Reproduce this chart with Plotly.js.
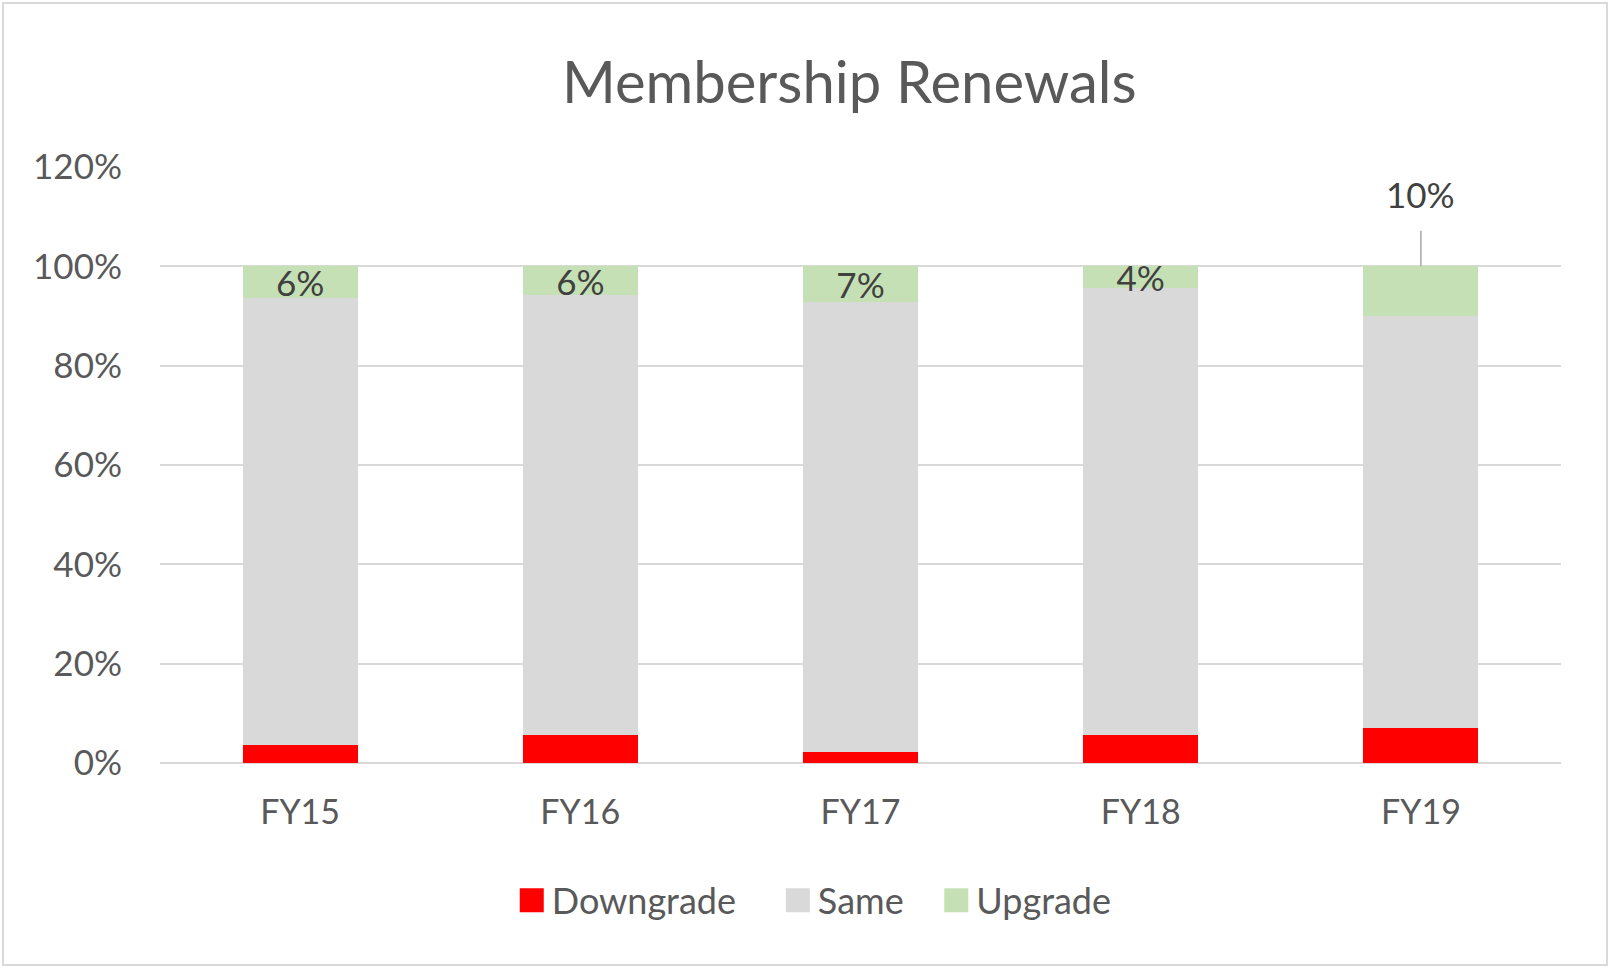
<!DOCTYPE html>
<html>
<head>
<meta charset="utf-8">
<script src="https://cdn.plot.ly/plotly-3.0.1.min.js"></script>
<style>
html,body{margin:0;padding:0;background:#fff;}
#chart{width:1610px;height:968px;}
#frame{position:absolute;left:2px;top:2px;width:1602px;height:960px;border:2px solid #d9d9d9;pointer-events:none;}
</style>
</head>
<body>
<div id="chart"></div>
<div id="frame"></div>
<script>
// Data (percent of renewals)
const categories = ['FY15', 'FY16', 'FY17', 'FY18', 'FY19'];
const downgrade = [3.7, 5.6, 2.2, 5.6, 7.0];
const same      = [89.9, 88.6, 90.6, 90.0, 83.1];
const upgrade   = [6.4, 5.8, 7.2, 4.4, 9.9];
const seriesNames = ['Downgrade', 'Same', 'Upgrade'];
const yTicks = [0, 20, 40, 60, 80, 100, 120];

const FONT = 'Lato, "Liberation Sans", sans-serif';
const TXT = '#595959';
const pad = n => '\u00a0'.repeat(n);   // spacing between legend entries

const traces = [
  {type: 'bar', name: seriesNames[0] + pad(4), x: categories, y: downgrade,
   marker: {color: '#ff0000'}, hoverinfo: 'skip'},
  {type: 'bar', name: seriesNames[1] + pad(3), x: categories, y: same,
   marker: {color: '#d9d9d9'}, hoverinfo: 'skip'},
  {type: 'bar', name: seriesNames[2], x: categories, y: upgrade,
   marker: {color: '#c5e0b4'}, hoverinfo: 'skip',
   texttemplate: '%{y:.0f}%',
   textposition: categories.map((c, i) => i === categories.length - 1 ? 'none' : 'inside'),
   insidetextanchor: 'middle', textangle: 0, constraintext: 'none',
   insidetextfont: {family: FONT, size: 35, color: '#404040'}}
];

const last = categories.length - 1;
const layout = {
  width: 1610, height: 968,
  paper_bgcolor: '#ffffff', plot_bgcolor: '#ffffff',
  margin: {l: 160, r: 49, t: 167, b: 205},
  barmode: 'stack', bargap: 0.59,
  font: {family: FONT, color: TXT, size: 34},
  title: {text: 'Membership Renewals', font: {family: FONT, size: 58, color: TXT},
          xref: 'paper', x: 0.492, xanchor: 'center', yref: 'container', y: 0.915, yanchor: 'middle'},
  xaxis: {type: 'category', showgrid: false, zeroline: false, showline: false, ticks: '',
          tickfont: {family: FONT, size: 34, color: TXT}, ticklabelstandoff: 26},
  yaxis: {range: [0, 120], tickvals: yTicks, ticktext: yTicks.map(v => v + '%'),
          showgrid: true, gridcolor: '#d9d9d9', gridwidth: 2,
          zeroline: true, zerolinecolor: '#d9d9d9', zerolinewidth: 2,
          showline: false, ticks: '', ticklabelstandoff: 37,
          tickfont: {family: FONT, size: 35, color: TXT}},
  legend: {orientation: 'h', xref: 'paper', yref: 'container', x: 0.467, xanchor: 'center',
           y: 0.07, yanchor: 'middle', font: {family: FONT, size: 36, color: TXT},
           itemclick: false, traceorder: 'normal'},
  annotations: [{
    x: categories[last], y: downgrade[last] + same[last] + upgrade[last],
    xref: 'x', yref: 'y', text: Math.round(upgrade[last]) + '%',
    showarrow: true, arrowhead: 0, arrowwidth: 1.5, arrowcolor: '#a6a6a6',
    ax: 0, ay: -72, startstandoff: 14,
    font: {family: FONT, size: 35, color: '#404040'}
  }],
  showlegend: true
};

Plotly.newPlot('chart', traces, layout, {staticPlot: true}).then(() => {
  document.querySelectorAll('#chart .legendpoints path').forEach(p => {
    p.setAttribute('d', 'M12,12H-12V-12H12Z');
  });
});
</script>
</body>
</html>
